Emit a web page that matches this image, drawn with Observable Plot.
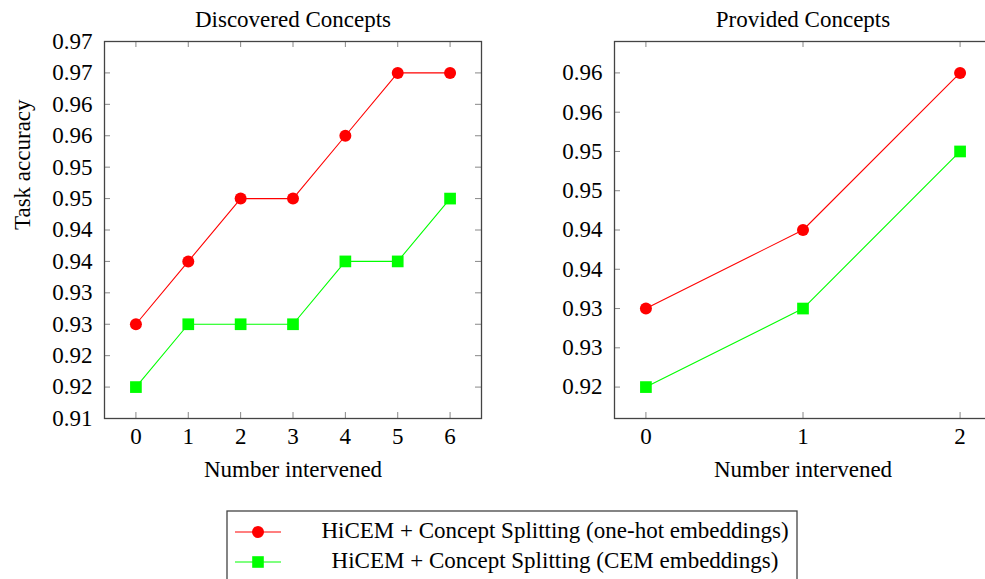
<!DOCTYPE html>
<html>
<head>
<meta charset="utf-8">
<script src="https://cdn.jsdelivr.net/npm/d3@7"></script>
<script src="https://cdn.jsdelivr.net/npm/@observablehq/plot@0.6"></script>
<style>
  html, body { margin: 0; padding: 0; background: #fff; overflow: hidden; }
  #wrap { position: relative; width: 985px; height: 579px; overflow: hidden; background: #fff; font-family: 'Liberation Serif', 'Times New Roman', serif; }
  #wrap svg, #wrap svg text { font-family: 'Liberation Serif', 'Times New Roman', serif !important; }
</style>
</head>
<body>
<div id="wrap"></div>
<script>
// ---- Data ----
const leftX = [0, 1, 2, 3, 4, 5, 6];
const leftOneHot = [0.925, 0.935, 0.945, 0.945, 0.955, 0.965, 0.965];
const leftCEM    = [0.915, 0.925, 0.925, 0.925, 0.935, 0.935, 0.945];

const rightX = [0, 1, 2];
const rightOneHot = [0.93, 0.94, 0.96];
const rightCEM    = [0.92, 0.93, 0.95];

const leftYTicks  = [0.91, 0.915, 0.92, 0.925, 0.93, 0.935, 0.94, 0.945, 0.95, 0.955, 0.96, 0.965, 0.97];
const leftYLabels = ["0.91","0.92","0.92","0.93","0.93","0.94","0.94","0.95","0.95","0.96","0.96","0.97","0.97"];
const rightYTicks  = [0.92, 0.925, 0.93, 0.935, 0.94, 0.945, 0.95, 0.955, 0.96];
const rightYLabels = ["0.92","0.93","0.93","0.94","0.94","0.95","0.95","0.96","0.96"];

const seriesNames = ["HiCEM + Concept Splitting (one-hot embeddings)", "HiCEM + Concept Splitting (CEM embeddings)"];
const seriesColors = ["#ff0000", "#00ff00"];
const titles = ["Discovered Concepts", "Provided Concepts"];
const xLabel = "Number intervened";
const yLabel = "Task accuracy";

// ---- Build ----
const FONT = "Liberation Serif";
const H = 500, MT = 41, MB = 82;
const innerH = H - MT - MB;
const TICK = 6;

function table(xs, ys, s) { return xs.map((x, i) => ({x, y: ys[i], s})); }

function panel({xs, a, b, xDomain, yDomain, yTicks, yLabels, width, ml, mr, title, showY}) {
  const innerW = width - ml - mr;
  const dA = table(xs, a, 0), dB = table(xs, b, 1);
  const txt = {fontFamily: FONT, fontSize: 23, fill: "#000"};
  const marks = [
    // inward ticks on all four sides
    Plot.ruleX(xs, {x: d => d, insetTop: innerH - TICK, stroke: "#888", strokeWidth: 1}),
    Plot.ruleX(xs, {x: d => d, insetBottom: innerH - TICK, stroke: "#888", strokeWidth: 1}),
    Plot.ruleY(yTicks, {y: d => d, insetRight: innerW - TICK, stroke: "#888", strokeWidth: 1}),
    Plot.ruleY(yTicks, {y: d => d, insetLeft: innerW - TICK, stroke: "#888", strokeWidth: 1}),
    Plot.axisX({ticks: xs, tickSize: 0, tickPadding: 9, label: null, tickFormat: d => String(d), ...txt}),
    Plot.axisY({ticks: yTicks, tickSize: 0, tickPadding: 12, label: null, tickFormat: d => yLabels[yTicks.indexOf(d)], ...txt}),
    Plot.frame({stroke: "#444", strokeWidth: 1.3}),
    Plot.line(dA, {x: "x", y: "y", stroke: seriesColors[0], strokeWidth: 1.1}),
    Plot.line(dB, {x: "x", y: "y", stroke: seriesColors[1], strokeWidth: 1.1}),
    Plot.dot(dA, {x: "x", y: "y", r: 6, fill: seriesColors[0], symbol: "circle"}),
    Plot.dot(dB, {x: "x", y: "y", r: 6.6, fill: seriesColors[1], symbol: "square"}),
    Plot.text([title], {frameAnchor: "top", lineAnchor: "middle", dy: -22, ...txt}),
    Plot.text([xLabel], {frameAnchor: "bottom", lineAnchor: "middle", dy: 51, ...txt})
  ];
  if (showY) marks.push(Plot.text([yLabel], {frameAnchor: "left", lineAnchor: "middle", dx: -82, rotate: -90, ...txt}));
  const svg = Plot.plot({
    width, height: H,
    marginLeft: ml, marginRight: mr, marginTop: MT, marginBottom: MB,
    x: {domain: xDomain},
    y: {domain: yDomain},
    style: {fontSize: "23px", color: "#000", background: "transparent", overflow: "visible"},
    marks
  });
  svg.setAttribute("font-family", FONT);
  return svg;
}

const wrap = document.getElementById("wrap");

const left = panel({xs: leftX, a: leftOneHot, b: leftCEM, xDomain: [-0.6, 6.6], yDomain: [0.91, 0.97],
  yTicks: leftYTicks, yLabels: leftYLabels, width: 500, ml: 104, mr: 19, title: titles[0], showY: true});
left.style.position = "absolute"; left.style.left = "0px"; left.style.top = "0px";
wrap.appendChild(left);

const right = panel({xs: rightX, a: rightOneHot, b: rightCEM, xDomain: [-0.2, 2.2], yDomain: [0.916, 0.964],
  yTicks: rightYTicks, yLabels: rightYLabels, width: 431, ml: 54, mr: 0, title: titles[1], showY: false});
right.style.position = "absolute"; right.style.left = "560px"; right.style.top = "0px";
wrap.appendChild(right);

// ---- Legend ----
const ns = "http://www.w3.org/2000/svg";
const lg = document.createElementNS(ns, "svg");
lg.setAttribute("width", 985); lg.setAttribute("height", 579);
lg.style.position = "absolute"; lg.style.left = "0px"; lg.style.top = "0px";
function el(tag, attrs, text) {
  const e = document.createElementNS(ns, tag);
  for (const k in attrs) e.setAttribute(k, attrs[k]);
  if (text) e.textContent = text;
  lg.appendChild(e); return e;
}
el("rect", {x: 227, y: 511, width: 570, height: 100, fill: "#fff", stroke: "#444", "stroke-width": 1.3});
const rows = [532, 562];
rows.forEach((yy, i) => {
  el("line", {x1: 235, x2: 281, y1: yy, y2: yy, stroke: seriesColors[i], "stroke-width": 1.1});
  if (i === 0) el("circle", {cx: 258, cy: yy, r: 6, fill: seriesColors[i]});
  else el("rect", {x: 252.2, y: yy - 5.8, width: 11.6, height: 11.6, fill: seriesColors[i]});
  el("text", {x: 555, y: yy + 6, "text-anchor": "middle", "font-family": FONT, "font-size": 23, fill: "#000"}, seriesNames[i]);
});
wrap.appendChild(lg);
</script>
</body>
</html>
